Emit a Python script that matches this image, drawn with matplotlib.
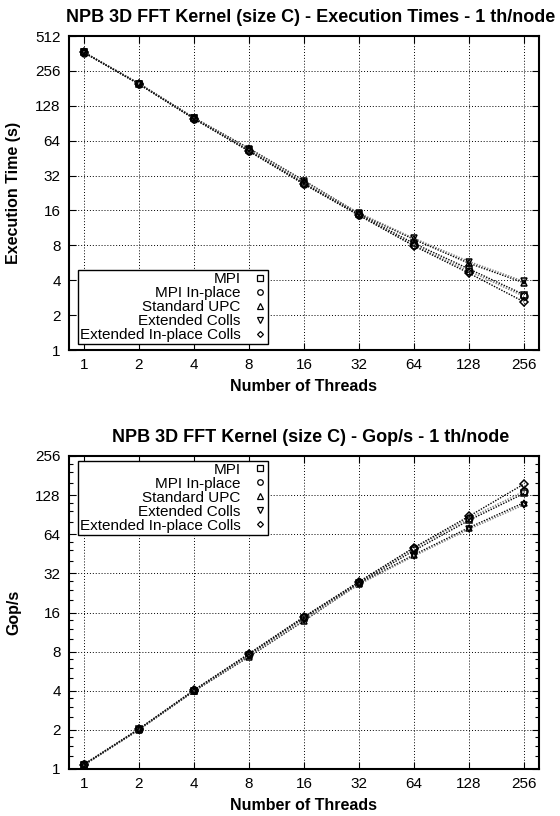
"""
NPB 3D FFT kernel (size C): execution times and Gop/s, 1 thread per node.
"""
import numpy as np
import matplotlib
matplotlib.use("Agg")
import matplotlib.pyplot as plt
from matplotlib.lines import Line2D
from matplotlib.ticker import FixedLocator, FixedFormatter, LogLocator, NullFormatter

plt.rcParams['font.family'] = ['Liberation Sans', 'DejaVu Sans']

# number of threads
threads = [1, 2, 4, 8, 16, 32, 64, 128, 256]
thread_labels = ["1", "2", "4", "8", "16", "32", "64", "128", "256"]

series_names = ["MPI", "MPI In-place", "Standard UPC", "Extended Colls", "Extended In-place Colls"]

# execution times (s)
time_mpi = [370, 198, 100, 53, 27.5, 14.8, 8.3, 5.0, 3.0]
time_mpi_inplace = [368, 197, 99, 52, 27, 14.6, 8.0, 4.8, 2.9]
time_std_upc = [372, 200, 101, 55, 29, 15.0, 9.0, 5.6, 3.8]
time_ext_colls = [372, 199, 100, 54, 28.5, 15.2, 9.2, 5.8, 3.9]
time_ext_inplace = [369, 197, 99, 52, 27, 14.5, 7.9, 4.6, 2.6]

# performance (Gop/s)
gops_mpi = [1.08, 2.02, 4.0, 7.55, 14.5, 27, 48, 82, 132]
gops_mpi_inplace = [1.09, 2.03, 4.04, 7.7, 14.8, 27.4, 50, 85, 137]
gops_std_upc = [1.07, 2.0, 3.96, 7.3, 13.8, 26.7, 44.5, 72, 112]
gops_ext_colls = [1.07, 2.01, 4.0, 7.4, 14.0, 26.3, 43.5, 70, 108]
gops_ext_inplace = [1.08, 2.03, 4.04, 7.7, 14.8, 27.6, 50.6, 88, 156]

time_ticks = [1, 2, 4, 8, 16, 32, 64, 128, 256, 512]
gops_ticks = [1, 2, 4, 8, 16, 32, 64, 128, 256]

markers = ["s", "o", "^", "v", "D"]
line_colors = ["black", "#808080", "black", "#808080", "black"]

W, H = 560, 816
fig = plt.figure(figsize=(W / 100, H / 100), dpi=100)


def make_axes(top_px, bottom_px):
    return fig.add_axes([69 / W, 1 - bottom_px / H, 470 / W, (bottom_px - top_px) / H])


def style_axes(ax, yticks, ylim):
    ax.set_xscale("log", base=2)
    ax.set_yscale("log", base=2)
    ax.set_xlim(0.83, 309)
    ax.set_ylim(*ylim)
    ax.xaxis.set_major_locator(FixedLocator(threads))
    ax.xaxis.set_major_formatter(FixedFormatter(thread_labels))
    ax.xaxis.set_minor_locator(FixedLocator([]))
    ax.yaxis.set_major_locator(FixedLocator(yticks))
    ax.yaxis.set_major_formatter(FixedFormatter([str(v) for v in yticks]))
    ax.yaxis.set_minor_locator(LogLocator(base=2, subs=[1.25, 1.5, 1.75]))
    ax.yaxis.set_minor_formatter(NullFormatter())
    ax.tick_params(which="both", direction="in", top=True, right=True, labelsize=11)
    ax.tick_params(which="major", length=5, width=0.8)
    ax.tick_params(which="minor", length=3, width=0.8)
    ax.tick_params(axis="x", pad=6)
    ax.tick_params(axis="y", pad=6)
    ax.grid(True, which="major", color="black", linestyle=(0, (1, 2)), linewidth=0.7)
    for s in ax.spines.values():
        s.set_linewidth(1.5)
    ax.set_xlabel("Number of Threads", fontsize=11.5, fontweight="bold", labelpad=5)


def draw(ax, data):
    for vals, m, c in zip(data, markers, line_colors):
        ax.plot(threads, vals, color=c, linestyle=(0, (1, 1)), linewidth=1.0,
                marker=m, markersize=5 if m != "D" else 4, markerfacecolor="none",
                markeredgecolor="black", markeredgewidth=1.1)


def add_legend(ax, loc, anchor):
    handles = [Line2D([], [], linestyle="none", marker=m, markersize=4 if m != "D" else 3,
                      markerfacecolor="none", markeredgecolor="black", markeredgewidth=0.9)
               for m in markers]
    leg = ax.legend(handles, series_names, loc=loc, bbox_to_anchor=anchor, markerfirst=False,
                    fontsize=11, frameon=True, fancybox=False, framealpha=1, edgecolor="black",
                    borderaxespad=0, borderpad=0.12, labelspacing=0.0, handlelength=0.9,
                    handletextpad=0.8)
    leg.get_frame().set_linewidth(1.0)


# top: execution times
ax1 = make_axes(36, 350)
style_axes(ax1, time_ticks, (1, 512))
draw(ax1, [time_mpi, time_mpi_inplace, time_std_upc, time_ext_colls, time_ext_inplace])
ax1.set_ylabel("Execution Time (s)", fontsize=11.5, fontweight="bold", labelpad=10)
ax1.set_title("NPB 3D FFT Kernel (size C) - Execution Times - 1 th/node",
              fontsize=13, fontweight="bold", pad=10, x=0.515)
add_legend(ax1, "lower left", (0.019, 0.019))

# bottom: Gop/s
ax2 = make_axes(456, 769)
style_axes(ax2, gops_ticks, (1, 256))
draw(ax2, [gops_mpi, gops_mpi_inplace, gops_std_upc, gops_ext_colls, gops_ext_inplace])
ax2.set_ylabel("Gop/s", fontsize=11.5, fontweight="bold", labelpad=10)
ax2.set_title("NPB 3D FFT Kernel (size C) - Gop/s - 1 th/node",
              fontsize=13, fontweight="bold", pad=10, x=0.515)
add_legend(ax2, "upper left", (0.019, 0.984))

fig.savefig("out.png", dpi=100)
